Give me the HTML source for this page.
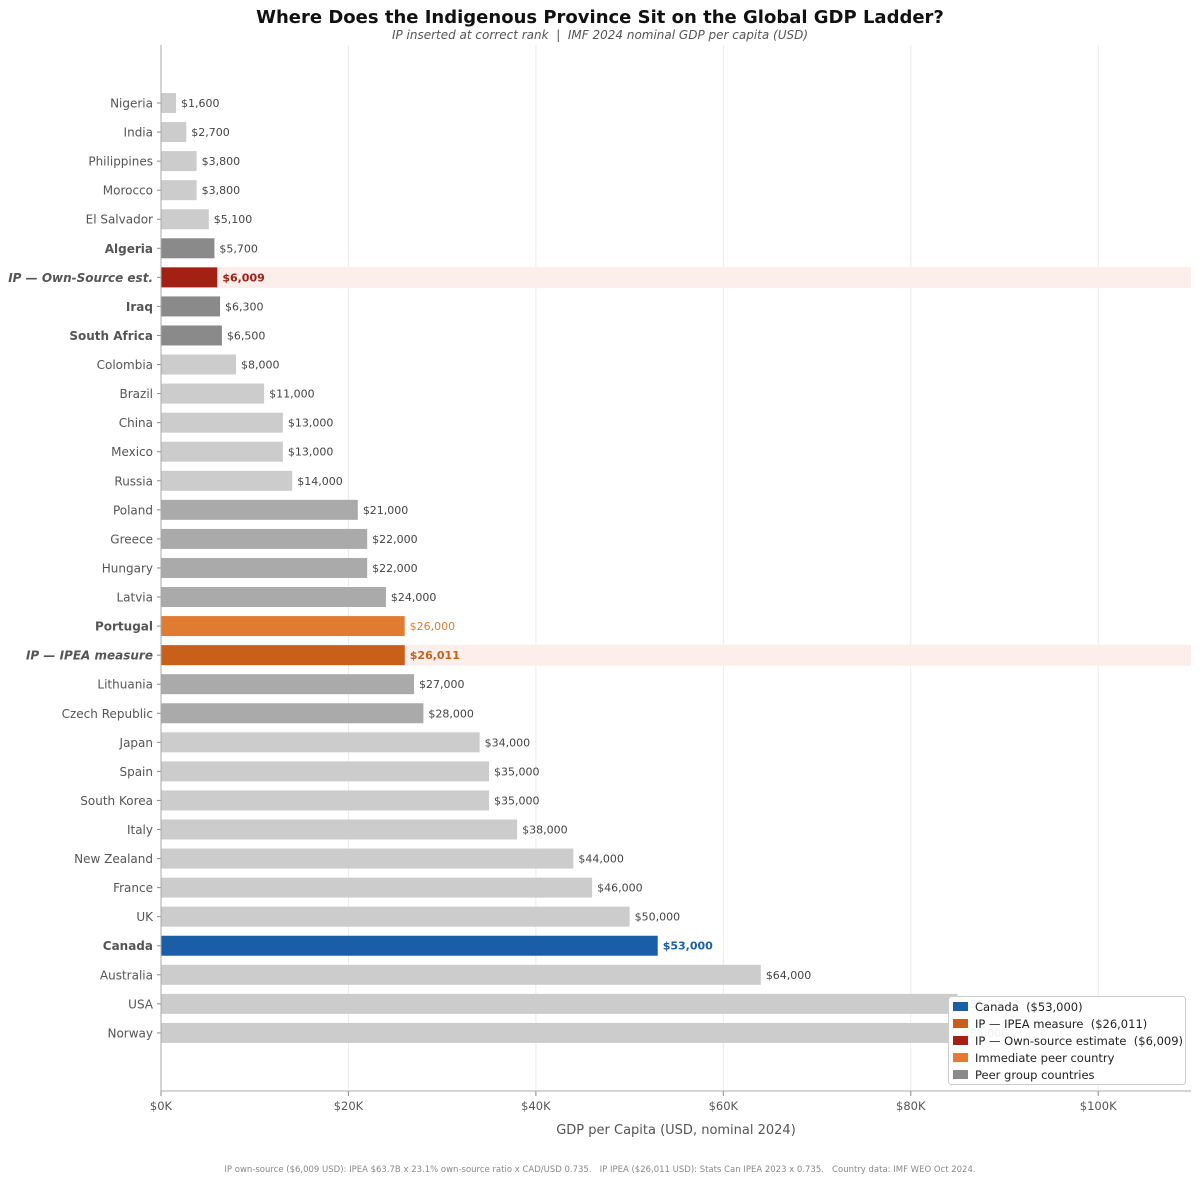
<!DOCTYPE html>
<html><head><meta charset="utf-8">
<style>
html,body{margin:0;padding:0;background:#fff;}
svg{display:block;font-family:"DejaVu Sans","Liberation Sans",sans-serif;}
svg text{white-space:pre;}
</style></head>
<body>
<svg id="chart" width="1200" height="1183" viewBox="0 0 1200 1183">
<text x="600" y="23" text-anchor="middle" font-size="18" font-weight="bold" fill="#111">Where Does the Indigenous Province Sit on the Global GDP Ladder?</text>
<text x="600" y="39" text-anchor="middle" font-size="12" font-style="italic" fill="#555">IP inserted at correct rank  |  IMF 2024 nominal GDP per capita (USD)</text>
<g id="grid"></g>
<g id="bands"></g>
<g id="bars"></g>
<g id="axes"></g>
<text x="676" y="1134" text-anchor="middle" font-size="13" fill="#555">GDP per Capita (USD, nominal 2024)</text>
<text x="600" y="1172" text-anchor="middle" font-size="8.5" fill="#888">IP own-source ($6,009 USD): IPEA $63.7B x 23.1% own-source ratio x CAD/USD 0.735.   IP IPEA ($26,011 USD): Stats Can IPEA 2023 x 0.735.   Country data: IMF WEO Oct 2024.</text>
<g id="legend"></g>
</svg>
<script>
const categories = ["Nigeria","India","Philippines","Morocco","El Salvador","Algeria","IP — Own-Source est.","Iraq","South Africa","Colombia","Brazil","China","Mexico","Russia","Poland","Greece","Hungary","Latvia","Portugal","IP — IPEA measure","Lithuania","Czech Republic","Japan","Spain","South Korea","Italy","New Zealand","France","UK","Canada","Australia","USA","Norway"];
const values = [1600,2700,3800,3800,5100,5700,6009,6300,6500,8000,11000,13000,13000,14000,21000,22000,22000,24000,26000,26011,27000,28000,34000,35000,35000,38000,44000,46000,50000,53000,64000,85000,85000];
const groups = ["o","o","o","o","o","peer","ipown","peer","peer","o","o","o","o","o","mid","mid","mid","mid","imm","ipea","mid","mid","o","o","o","o","o","o","o","canada","o","o","o"];
const xTicks = [0,20000,40000,60000,80000,100000];
const xTickLabels = ["$0K","$20K","$40K","$60K","$80K","$100K"];

const NS="http://www.w3.org/2000/svg";
const X0=161, X1=1191, XMAX=109900;
const xs=v=>X0+(v/XMAX)*(X1-X0);
const ROW0=103, STEP=29.06;
const ys=i=>ROW0+i*STEP;
const fill={o:"#cccccc",mid:"#aaaaaa",peer:"#8a8a8a",ipown:"#a32015",ipea:"#c8601a",imm:"#e07b32",canada:"#1a5ea8"};
const lblColor={o:"#444",mid:"#444",peer:"#444",ipown:"#a32015",ipea:"#c8601a",imm:"#e07b32",canada:"#1a5ea8"};
function mk(tag,attrs,parent,text){const e=document.createElementNS(NS,tag);for(const k in attrs)e.setAttribute(k,attrs[k]);if(text!==undefined)e.textContent=text;parent.appendChild(e);return e;}
const grid=document.getElementById('grid'),bands=document.getElementById('bands'),bars=document.getElementById('bars'),axes=document.getElementById('axes');
xTicks.forEach((t,i)=>{
  const g=mk('line',{x1:xs(t),x2:xs(t),y1:45,y2:1091,stroke:"#ebebeb","stroke-width":1},grid);
  
  
  const tk=mk('line',{x1:xs(t),x2:xs(t),y1:1091,y2:1096,stroke:"#888"},axes);
  
  
  const tl=mk('text',{x:xs(t),y:1110,"text-anchor":"middle","font-size":11.5,fill:"#555"},axes,xTickLabels[i]);
  
  
});
categories.forEach((c,i)=>{
  const y=ys(i), g=groups[i], bold=(g!=="o"&&g!=="mid");
  const isIP=(g==="ipown"||g==="ipea");
  if(isIP){
    const b=mk('rect',{x:X0,y:y-10.5,width:X1-X0,height:21,fill:"#fbeeeb"},bands);
    
    
  }
  const r=mk('rect',{x:X0,y:y-10,width:xs(values[i])-X0,height:20,fill:fill[g]},bars);
  
  
  const vl=mk('text',{x:xs(values[i])+5,y:y+4,"font-size":11,fill:lblColor[g],"font-weight":(isIP||g==="canada")?"bold":"normal"},bars,"$"+values[i].toLocaleString("en-US"));
  
  
  const tk=mk('line',{x1:X0-4,x2:X0,y1:y,y2:y,stroke:"#888"},axes);
  
  
  const cl=mk('text',{x:X0-8,y:y+4.5,"text-anchor":"end","font-size":12,fill:"#555","font-weight":bold?"bold":"normal","font-style":isIP?"italic":"normal"},axes,c);
  
  
});
const ax=mk('line',{x1:X0,x2:X0,y1:45,y2:1091,stroke:"#aaa"},axes);


const bx=mk('line',{x1:X0,x2:X1,y1:1091,y2:1091,stroke:"#aaa"},axes);



const leg=document.getElementById('legend');
const lb=mk('rect',{x:948.5,y:996.5,width:237,height:88,rx:3,fill:"#fff","fill-opacity":0.92,stroke:"#ccc"},leg);


const legItems=[["#1a5ea8","Canada  ($53,000)"],["#c8601a","IP — IPEA measure  ($26,011)"],["#a32015","IP — Own-source estimate  ($6,009)"],["#e07b32","Immediate peer country"],["#8a8a8a","Peer group countries"]];
legItems.forEach((it,i)=>{
  const y=1006+i*17;
  const s=mk('rect',{x:953,y:y-4,width:15,height:9,fill:it[0]},leg);
  
  
  const t=mk('text',{x:975,y:y+5,"font-size":11.5,fill:"#222"},leg,it[1]);
  
  
});
</script>
</body></html>
